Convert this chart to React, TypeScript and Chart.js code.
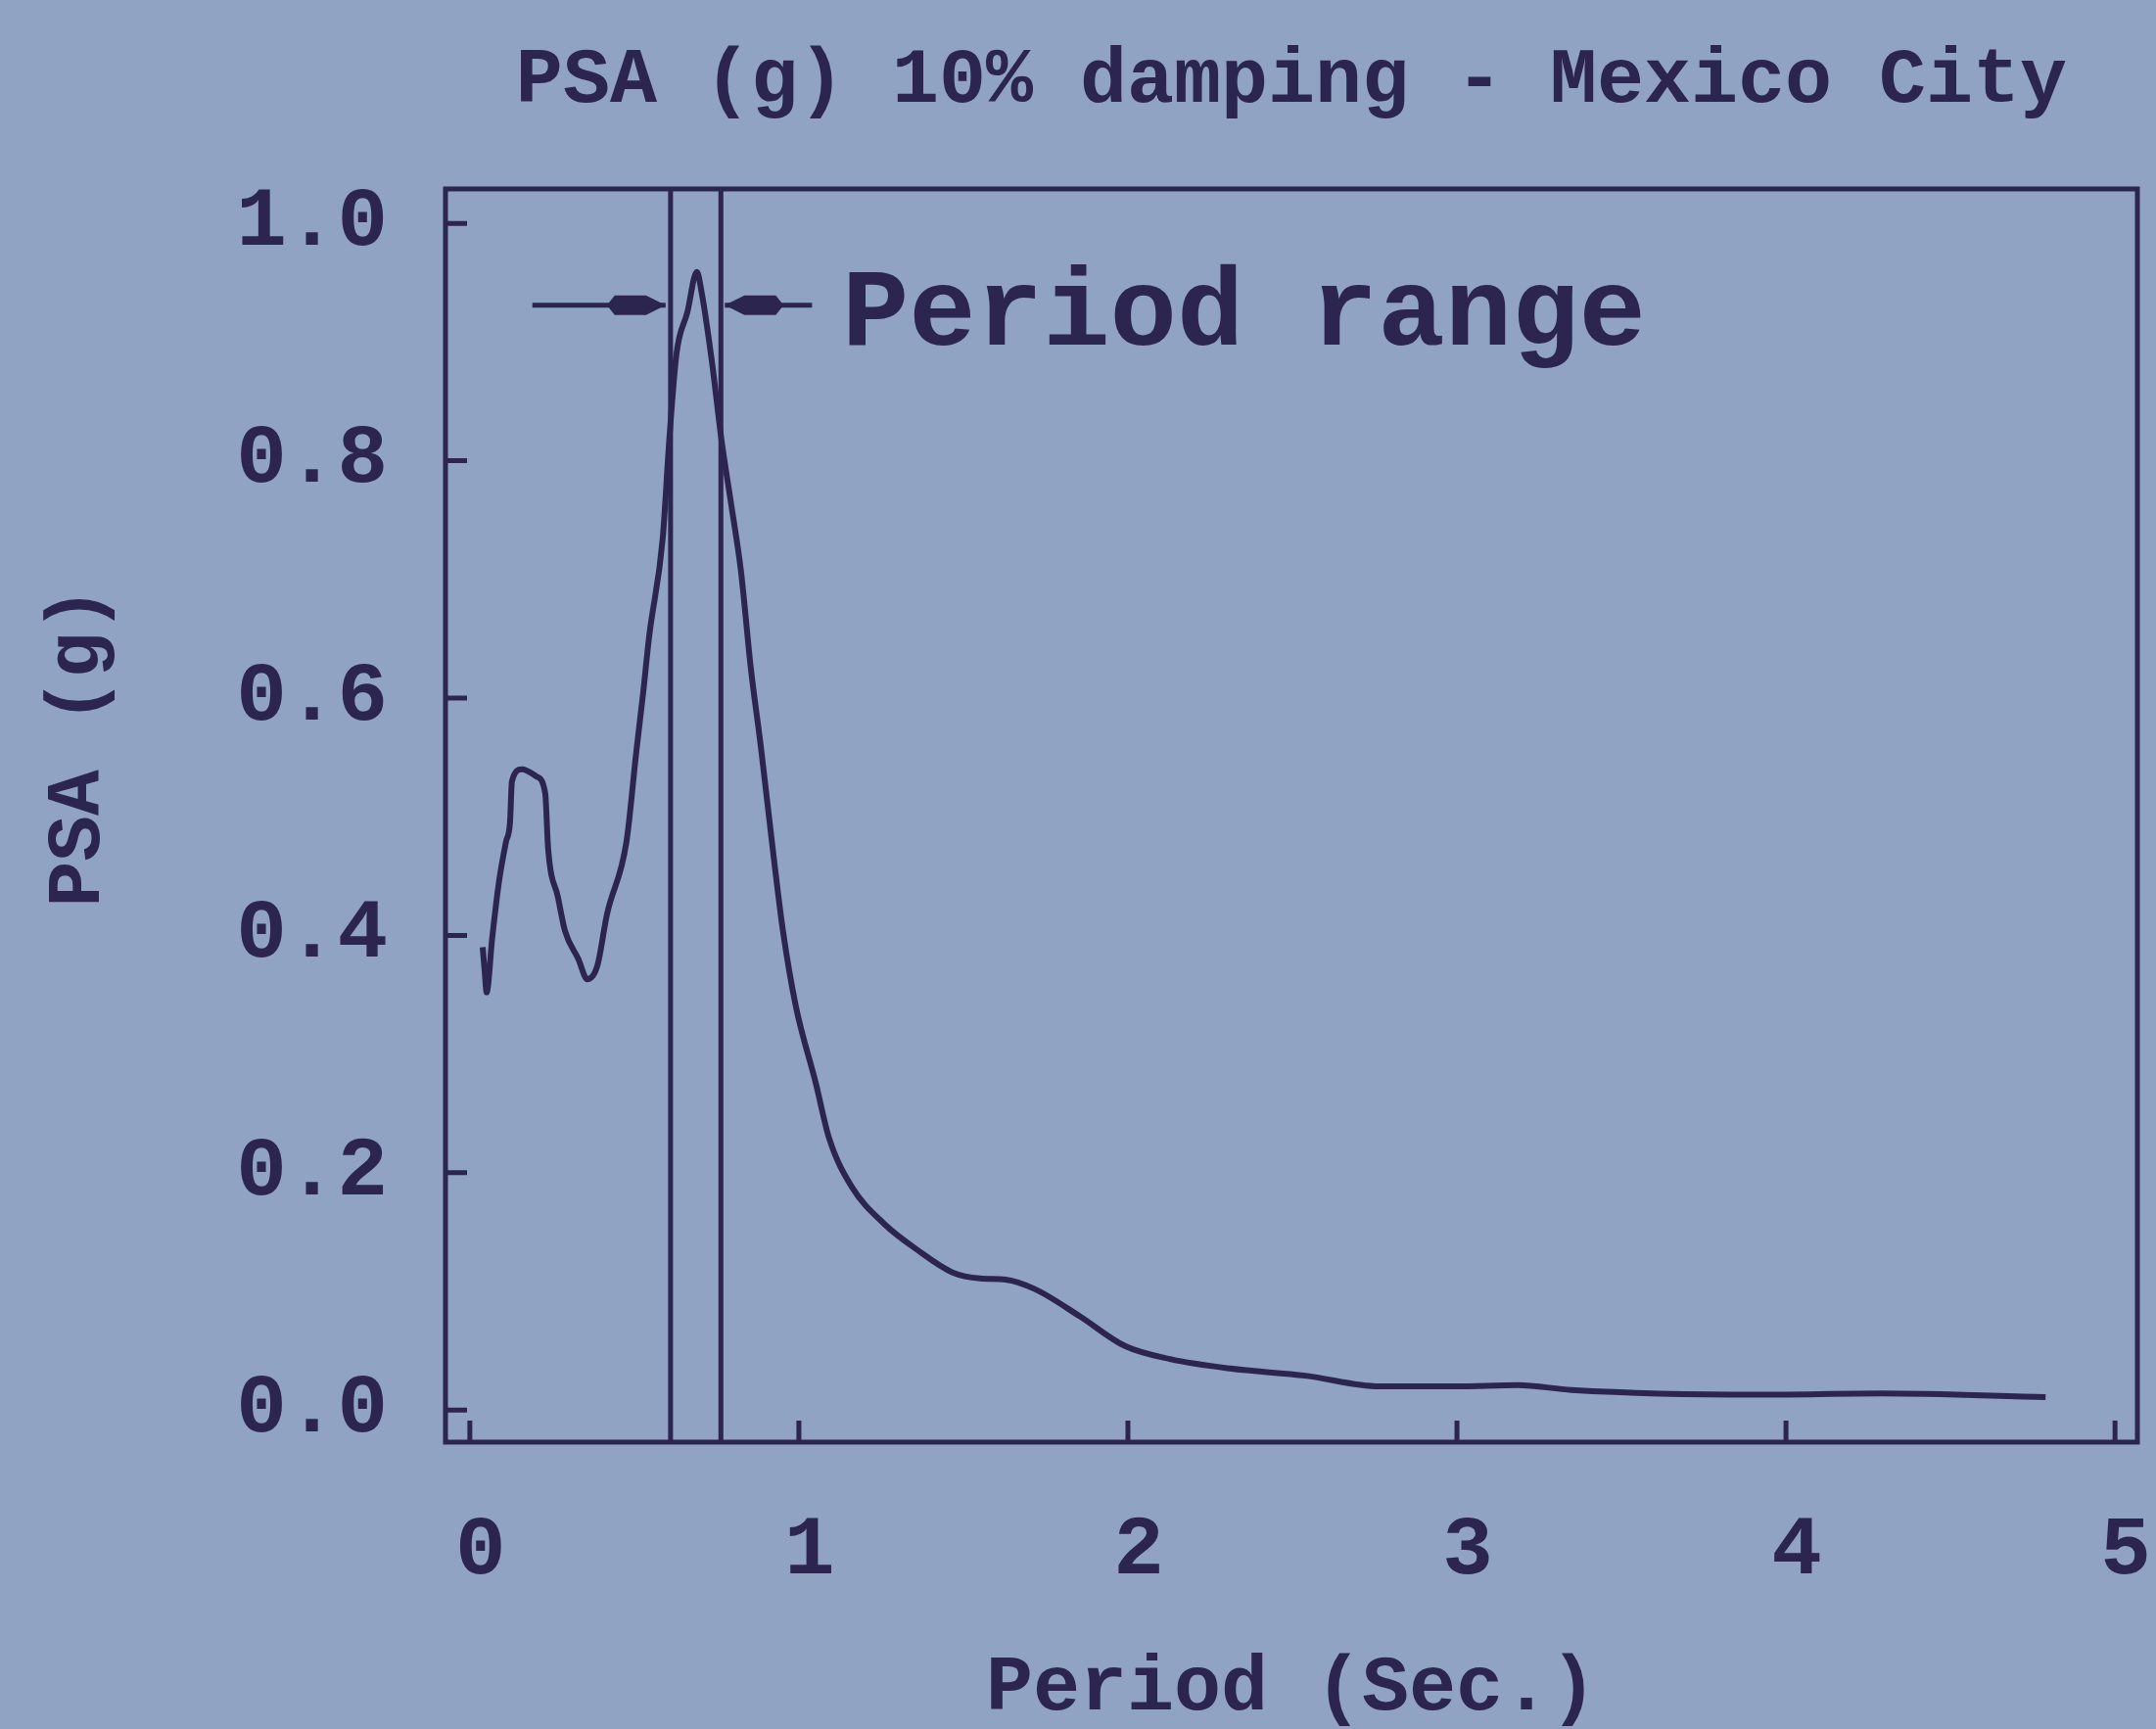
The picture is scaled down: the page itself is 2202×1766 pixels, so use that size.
import React, { useEffect, useRef } from "react";
import { Chart, registerables } from "chart.js";

Chart.register(...registerables);

// ---- data ----
const periods = [
  0.039, 0.045, 0.051, 0.068, 0.089, 0.110, 0.122, 0.128, 0.158, 0.202,
  0.229, 0.238, 0.268, 0.289, 0.330, 0.357, 0.387, 0.417, 0.476, 0.506,
  0.527, 0.545, 0.586, 0.606, 0.628, 0.661, 0.690, 0.705, 0.735, 0.765,
  0.795, 0.824, 0.854, 0.884, 0.923, 0.952, 0.991, 1.051, 1.092, 1.161,
  1.259, 1.360, 1.467, 1.550, 1.628, 1.717, 1.854, 1.991, 2.128, 2.310,
  2.539, 2.765, 2.994, 3.185, 3.348, 3.914, 4.289, 4.789,
];
const psa = [
  0.390, 0.370, 0.352, 0.398, 0.446, 0.479, 0.495, 0.530, 0.540, 0.534,
  0.520, 0.473, 0.432, 0.404, 0.380, 0.363, 0.374, 0.418, 0.479, 0.555,
  0.605, 0.652, 0.734, 0.817, 0.890, 0.925, 0.959, 0.941, 0.885, 0.817,
  0.762, 0.707, 0.625, 0.560, 0.467, 0.403, 0.340, 0.276, 0.229, 0.188,
  0.157, 0.135, 0.116, 0.111, 0.110, 0.102, 0.079, 0.054, 0.043, 0.035,
  0.029, 0.020, 0.020, 0.021, 0.017, 0.013, 0.014, 0.011,
];
const xTicks = [0, 1, 2, 3, 4, 5];
const yTicks = [0, 0.2, 0.4, 0.6, 0.8, 1.0];
const xRange = [-0.074, 5.068];
const yRange = [-0.027, 1.029];
const rangeBounds = [0.61, 0.763];
const arrowY = 0.931;
const leftArrowX = [0.19, 0.595];
const rightArrowX = [1.04, 0.775];
const annotationText = "Period range";
const annotationPos = [1.131, 0.898];
const titleText = "PSA (g) 10% damping - Mexico City";
const xTitle = "Period (Sec.)";
const yTitle = "   PSA (g)";

const INK = "#2c2550";
const BG = "#91a3c2";
const FONT = "'Liberation Mono', 'DejaVu Sans Mono', monospace";

const decorPlugin = {
  id: "decor",
  beforeDraw(chart: any) {
    const { ctx, width, height } = chart;
    ctx.save();
    ctx.fillStyle = BG;
    ctx.fillRect(0, 0, width, height);
    ctx.restore();
  },
  afterDatasetsDraw(chart: any) {
    const { ctx, chartArea: a, scales } = chart;
    const x = scales.x;
    const y = scales.y;
    ctx.save();
    ctx.strokeStyle = INK;
    ctx.fillStyle = INK;
    ctx.lineWidth = 5;
    ctx.strokeRect(a.left, a.top, a.right - a.left, a.bottom - a.top);
    // inward tick marks
    ctx.lineWidth = 5;
    ctx.beginPath();
    for (const t of x.ticks) {
      const px = x.getPixelForValue(t.value);
      ctx.moveTo(px, a.bottom);
      ctx.lineTo(px, a.bottom - 22);
    }
    for (const t of y.ticks) {
      const py = y.getPixelForValue(t.value);
      ctx.moveTo(a.left, py);
      ctx.lineTo(a.left + 22, py);
    }
    ctx.stroke();
    // arrow heads
    for (const arr of [leftArrowX, rightArrowX]) {
      const tip = x.getPixelForValue(arr[1]);
      const dir = Math.sign(arr[1] - arr[0]);
      const py = y.getPixelForValue(arrowY);
      ctx.beginPath();
      ctx.moveTo(tip, py);
      ctx.lineTo(tip - dir * 20, py - 10);
      ctx.lineTo(tip - dir * 52, py - 10);
      ctx.lineTo(tip - dir * 60, py);
      ctx.lineTo(tip - dir * 52, py + 10);
      ctx.lineTo(tip - dir * 20, py + 10);
      ctx.closePath();
      ctx.fill();
    }
    // annotation text
    ctx.font = `bold 114px ${FONT}`;
    ctx.textBaseline = "alphabetic";
    ctx.textAlign = "left";
    ctx.fillText(
      annotationText,
      x.getPixelForValue(annotationPos[0]),
      y.getPixelForValue(annotationPos[1])
    );
    ctx.restore();
  },
};

export default function App() {
  const ref = useRef<HTMLCanvasElement | null>(null);
  useEffect(() => {
    document.body.style.margin = "0";
    document.body.style.background = BG;
    const canvas = ref.current;
    if (!canvas) return;
    const lineDs = (data: any[], width = 5) => ({
      data,
      borderColor: INK,
      borderWidth: width,
      pointRadius: 0,
      fill: false,
    });
    const chart = new Chart(canvas, {
      type: "line",
      data: {
        datasets: [
          {
            ...lineDs(
              periods.map((p, i) => ({ x: p, y: psa[i] })),
              6
            ),
            cubicInterpolationMode: "monotone",
          } as any,
          ...rangeBounds.map((b) =>
            lineDs([
              { x: b, y: yRange[0] },
              { x: b, y: yRange[1] },
            ])
          ),
          ...[leftArrowX, rightArrowX].map((ax) =>
            lineDs([
              { x: ax[0], y: arrowY },
              { x: ax[1], y: arrowY },
            ])
          ),
        ],
      },
      options: {
        responsive: false,
        devicePixelRatio: 1,
        animation: false,
        layout: { padding: { top: 0, left: 0, right: 19, bottom: 0 } },
        plugins: {
          legend: { display: false },
          tooltip: { enabled: false },
          title: {
            display: true,
            text: titleText,
            fullSize: false,
            color: INK,
            font: { family: FONT, size: 80, weight: "bold", lineHeight: 1.2 },
            padding: { top: 36, bottom: 61 },
          },
        },
        scales: {
          x: {
            type: "linear",
            min: xRange[0],
            max: xRange[1],
            afterBuildTicks: (s: any) => {
              s.ticks = xTicks.map((v) => ({ value: v }));
            },
            afterFit: (s: any) => {
              s.height = 293;
              s.paddingLeft = 0;
              s.paddingRight = 0;
            },
            grid: { display: false, drawTicks: false },
            border: { display: false },
            ticks: {
              autoSkip: false,
              maxRotation: 0,
              padding: 61,
              labelOffset: 11,
              color: INK,
              font: { family: FONT, size: 86, weight: "bold" },
              callback: (v: any) => String(v),
            },
            title: {
              display: true,
              text: xTitle,
              color: INK,
              font: { family: FONT, size: 80, weight: "bold", lineHeight: 1 },
              padding: { top: 0, bottom: 0 },
            },
          },
          y: {
            type: "linear",
            min: yRange[0],
            max: yRange[1],
            afterBuildTicks: (s: any) => {
              s.ticks = yTicks.map((v) => ({ value: v }));
            },
            afterFit: (s: any) => {
              s.width = 455;
              s.paddingTop = 0;
              s.paddingBottom = 0;
            },
            grid: { display: false, drawTicks: false },
            border: { display: false },
            ticks: {
              padding: 59,
              color: INK,
              font: { family: FONT, size: 86, weight: "bold" },
              callback: (v: any) => Number(v).toFixed(1),
            },
            title: {
              display: true,
              text: yTitle,
              color: INK,
              font: { family: FONT, size: 78, weight: "bold", lineHeight: 1 },
              padding: { top: 42, bottom: 0 },
            },
          },
        },
      } as any,
      plugins: [decorPlugin],
    });
    return () => chart.destroy();
  }, []);
  return (
    <canvas
      ref={ref}
      width={2202}
      height={1766}
      style={{ display: "block", width: 2202, height: 1766 }}
    />
  );
}
